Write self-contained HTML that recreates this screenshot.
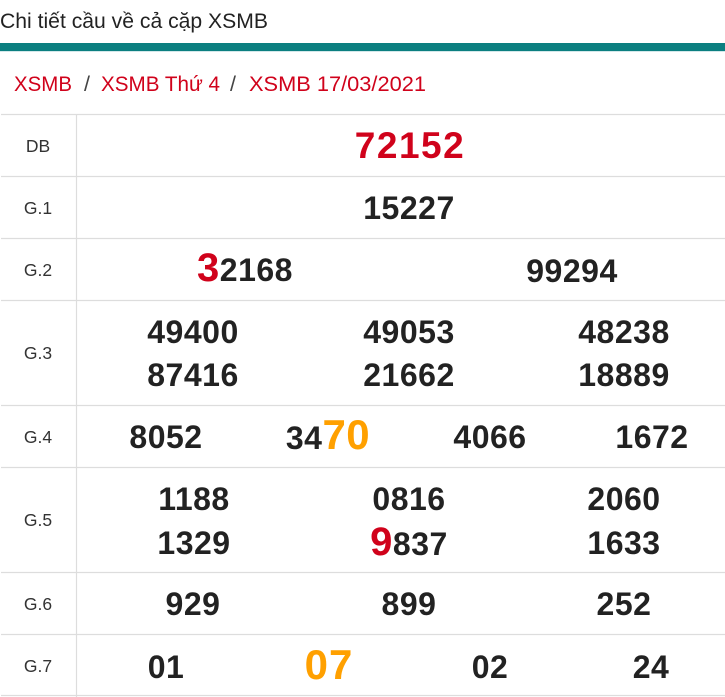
<!DOCTYPE html>
<html>
<head>
<meta charset="utf-8">
<style>
  html, body { margin: 0; padding: 0; background: #fff; }
  body { width: 725px; height: 697px; overflow: hidden; }
  svg { display: block; }
  .t { font-family: "Liberation Sans", Arial, sans-serif; }
  .num { font-family: "Liberation Sans", Arial, sans-serif; font-weight: bold; font-size: 32px; fill: #222; letter-spacing: 0.5px; }
  .lbl { font-family: "Liberation Sans", Arial, sans-serif; font-size: 17.5px; fill: #333; }
  .red { fill: #d0021b; }
  .org { fill: #ffa000; }
</style>
</head>
<body>
<svg width="725" height="697" viewBox="0 0 725 697" xmlns="http://www.w3.org/2000/svg">
  <rect x="0" y="0" width="725" height="697" fill="#fff"/>

  <!-- Title -->
  <text class="t" x="0" y="28" font-size="21.5" fill="#222" textLength="268" lengthAdjust="spacingAndGlyphs">Chi tiết cầu về cả cặp XSMB</text>
  <rect x="0" y="43" width="725" height="8" fill="#0b7f80"/>
  <rect x="0" y="51" width="725" height="1" fill="#d3e8ea"/>

  <!-- Breadcrumb -->
  <g class="t" font-size="21.5" fill="#d0021b">
    <text x="14" y="91" textLength="58" lengthAdjust="spacingAndGlyphs">XSMB</text>
    <text x="84" y="91" fill="#444">/</text>
    <text x="101" y="91" textLength="119" lengthAdjust="spacingAndGlyphs">XSMB Thứ 4</text>
    <text x="230" y="91" fill="#444">/</text>
    <text x="249" y="91" textLength="177" lengthAdjust="spacingAndGlyphs">XSMB 17/03/2021</text>
  </g>

  <!-- Table lines -->
  <g stroke="#dddddd" stroke-width="1.2">
    <line x1="1" y1="114.5" x2="725" y2="114.5"/>
    <line x1="1" y1="176.5" x2="725" y2="176.5"/>
    <line x1="1" y1="238.5" x2="725" y2="238.5"/>
    <line x1="1" y1="300.5" x2="725" y2="300.5"/>
    <line x1="1" y1="405.5" x2="725" y2="405.5"/>
    <line x1="1" y1="467.5" x2="725" y2="467.5"/>
    <line x1="1" y1="572.5" x2="725" y2="572.5"/>
    <line x1="1" y1="634.5" x2="725" y2="634.5"/>
    <line x1="1" y1="695.5" x2="725" y2="695.5"/>
    <line x1="76.5" y1="114" x2="76.5" y2="697"/>
  </g>

  <!-- Labels -->
  <g class="lbl" text-anchor="middle">
    <text x="38" y="152">DB</text>
    <text x="38" y="214">G.1</text>
    <text x="38" y="276">G.2</text>
    <text x="38" y="359">G.3</text>
    <text x="38" y="443">G.4</text>
    <text x="38" y="526">G.5</text>
    <text x="38" y="610">G.6</text>
    <text x="38" y="672">G.7</text>
  </g>

  <!-- Numbers -->
  <g class="num" text-anchor="middle">
    <!-- DB -->
    <text x="410" y="158" class="red" style="font-size:37px;letter-spacing:1.5px">72152</text>
    <!-- G.1 -->
    <text x="409" y="219">15227</text>
    <!-- G.2 -->
    <text x="245" y="281"><tspan class="red" style="font-size:40px">3</tspan>2168</text>
    <text x="572" y="282">99294</text>
    <!-- G.3 -->
    <text x="193" y="343">49400</text>
    <text x="409" y="343">49053</text>
    <text x="624" y="343">48238</text>
    <text x="193" y="386">87416</text>
    <text x="409" y="386">21662</text>
    <text x="624" y="386">18889</text>
    <!-- G.4 -->
    <text x="166" y="448">8052</text>
    <text x="328" y="449">34<tspan class="org" style="font-size:42px">70</tspan></text>
    <text x="490" y="448">4066</text>
    <text x="652" y="448">1672</text>
    <!-- G.5 -->
    <text x="194" y="510">1188</text>
    <text x="409" y="510">0816</text>
    <text x="624" y="510">2060</text>
    <text x="194" y="554">1329</text>
    <text x="409" y="555"><tspan class="red" style="font-size:40px">9</tspan>837</text>
    <text x="624" y="554">1633</text>
    <!-- G.6 -->
    <text x="193" y="615">929</text>
    <text x="409" y="615">899</text>
    <text x="624" y="615">252</text>
    <!-- G.7 -->
    <text x="166" y="678">01</text>
    <text x="329" y="679" class="org" style="font-size:42px;letter-spacing:1px">07</text>
    <text x="490" y="678">02</text>
    <text x="651" y="678">24</text>
  </g>
</svg>
</body>
</html>
